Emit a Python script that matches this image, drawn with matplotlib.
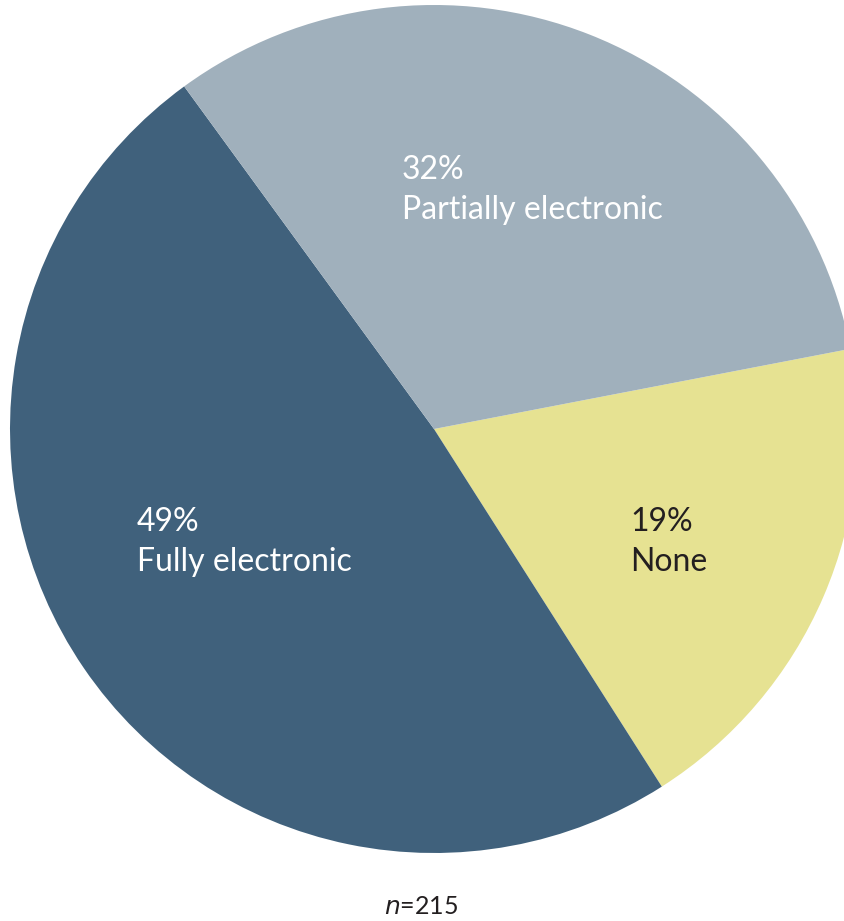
import matplotlib.pyplot as plt

# slice data, clockwise starting from the "None" slice
labels = ['None', 'Fully electronic', 'Partially electronic']
shares = [19, 49, 32]
colors = ['#e6e292', '#40617c', '#a0b0bc']
text_colors = ['#231f20', 'white', 'white']
n_resp = 215

W, H = 845, 921
fig = plt.figure(figsize=(W / 100, H / 100), dpi=100)
ax = fig.add_axes([0, 0, 1, 1])

cx, cy, r = 434, H - 429, 424
ax.pie(shares, colors=colors, startangle=10.9, counterclock=False,
       center=(cx, cy), radius=r, frame=True,
       wedgeprops=dict(linewidth=0))
ax.set_xlim(0, W)
ax.set_ylim(0, H)
ax.set_aspect('equal')
ax.axis('off')

# label anchors (left edge, top line centre) in pixel coords
pos = [(630, 522), (137, 522), (402, 170)]
for lab, val, tc, (x, y) in zip(labels, shares, text_colors, pos):
    ax.text(x, H - y, f'{val}%', color=tc, fontsize=23, family='Lato',
            ha='left', va='center')
    ax.text(x, H - y - 40, lab, color=tc, fontsize=23, family='Lato',
            ha='left', va='center')

ax.text(421, H - 906, r'$\it{n}$' + f'={n_resp}', fontsize=18, family='Lato',
        color='#231f20', ha='center', va='center')

fig.savefig('out.png', dpi=100)
